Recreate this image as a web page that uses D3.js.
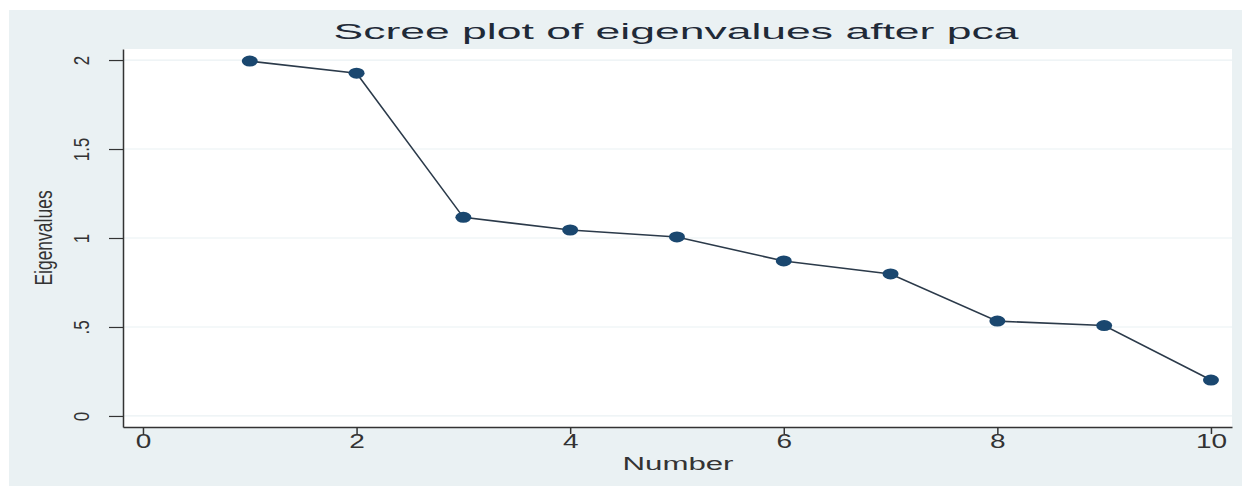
<!DOCTYPE html>
<html>
<head>
<meta charset="utf-8">
<script src="https://cdn.jsdelivr.net/npm/d3@7"></script>
<style>
  body { margin: 0; background: #fff; }
  text { font-family: "Liberation Sans", Arial, sans-serif; }
</style>
</head>
<body>
<svg id="scree"></svg>
<script>
// Data
let components = [1, 2, 3, 4, 5, 6, 7, 8, 9, 10];
let eigenvalues = [1.994, 1.926, 1.116, 1.045, 1.006, 0.871, 0.798, 0.533, 0.508, 0.202];
let xTicks = [0, 2, 4, 6, 8, 10];
let yTicks = [0, 0.5, 1, 1.5, 2];
let yTickLabels = ['0', '.5', '1', '1.5', '2'];

let width = 1242;
let height = 486;

let svg = d3.select('#scree')
    .attr('width', width)
    .attr('height', height);

// Stata-ish grey outer region
svg.append('rect')
    .attr('x', 9).attr('y', 10)
    .attr('width', width - 9).attr('height', height - 10)
    .attr('fill', '#eaf1f3');

// plot region
let plotLeft = 123, plotRight = 1232, plotTop = 49, plotBottom = 427;

svg.append('rect')
    .attr('x', plotLeft).attr('y', plotTop)
    .attr('width', plotRight - plotLeft).attr('height', plotBottom - plotTop)
    .attr('fill', '#ffffff');

// scales (domain padded like Stata does)
let x = d3.scaleLinear().domain([-0.187, 10.197]).range([plotLeft, plotRight]);
let y = d3.scaleLinear().domain([-0.062, 2.062]).range([plotBottom, plotTop]);

// grid lines
svg.append('g')
    .selectAll('line')
    .data(yTicks)
    .join('line')
    .attr('x1', plotLeft).attr('x2', plotRight)
    .attr('y1', d => y(d)).attr('y2', d => y(d))
    .attr('stroke', '#eaf1f3')
    .attr('stroke-width', 1.2);

// x axis
let xAxis = svg.append('g')
    .attr('transform', `translate(0,${plotBottom})`)
    .call(d3.axisBottom(x).tickValues(xTicks).tickSizeInner(7).tickSizeOuter(0).tickPadding(6));

xAxis.select('.domain').attr('stroke', '#333').attr('stroke-width', 1.5);
xAxis.selectAll('.tick line').attr('stroke', '#333').attr('stroke-width', 1.5);
xAxis.selectAll('.tick text')
    .attr('y', 0).attr('dy', 0)
    .attr('transform', 'translate(0,21) scale(1.4,1)')
    .attr('font-size', 20)
    .attr('fill', '#333');

// y axis
let yAxis = svg.append('g')
    .attr('transform', `translate(${plotLeft},0)`)
    .call(d3.axisLeft(y).tickValues(yTicks).tickFormat((d, i) => yTickLabels[i])
        .tickSizeInner(14).tickSizeOuter(0));

yAxis.select('.domain').attr('stroke', '#333').attr('stroke-width', 1.5);
yAxis.selectAll('.tick line').attr('stroke', '#333').attr('stroke-width', 1.2);
yAxis.selectAll('.tick text')
    .attr('x', 0).attr('dy', 0)
    .attr('text-anchor', 'middle')
    .attr('transform', 'translate(-34,0) scale(1.3,1) rotate(-90)')
    .attr('font-size', 17)
    .attr('fill', '#333');

// line + markers
let points = components.map((c, i) => ({ n: c, v: eigenvalues[i] }));

svg.append('path')
    .datum(points)
    .attr('fill', 'none')
    .attr('stroke', '#2b3a4a')
    .attr('stroke-width', 1.6)
    .attr('d', d3.line().x(d => x(d.n)).y(d => y(d.v)));

svg.append('g')
    .selectAll('ellipse')
    .data(points)
    .join('ellipse')
    .attr('cx', d => x(d.n))
    .attr('cy', d => y(d.v))
    .attr('rx', 8)
    .attr('ry', 5.5)
    .attr('fill', '#1a476f');

// title
svg.append('text')
    .attr('x', 676).attr('y', 39)
    .attr('text-anchor', 'middle')
    .attr('font-size', 22)
    .attr('textLength', 685)
    .attr('lengthAdjust', 'spacingAndGlyphs')
    .attr('fill', '#1f2a38')
    .text('Scree plot of eigenvalues after pca');

// x title
svg.append('text')
    .attr('x', 678).attr('y', 470)
    .attr('text-anchor', 'middle')
    .attr('font-size', 18)
    .attr('textLength', 111)
    .attr('lengthAdjust', 'spacingAndGlyphs')
    .attr('fill', '#333')
    .text('Number');

// y title
svg.append('text')
    .attr('text-anchor', 'middle')
    .attr('transform', 'translate(52,238) scale(1.35,1) rotate(-90)')
    .attr('font-size', 17.5)
    .attr('fill', '#333')
    .text('Eigenvalues');
</script>
</body>
</html>
